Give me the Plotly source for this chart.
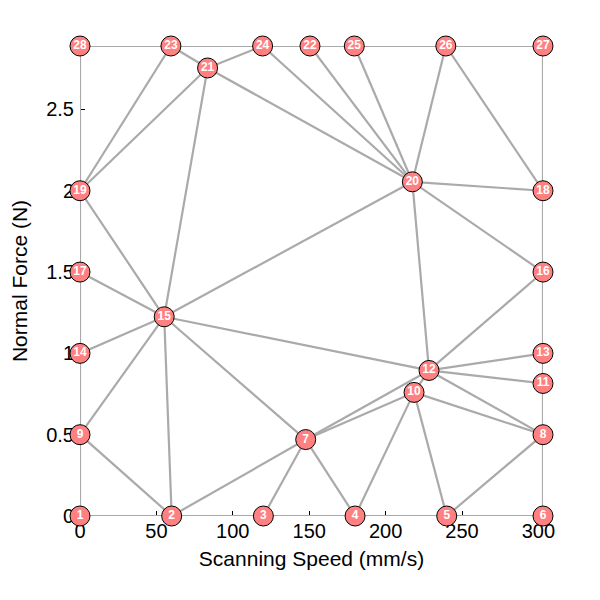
import plotly.graph_objects as go

# node coordinates (scanning speed in mm/s, normal force in N)
node_id = list(range(1, 29))
speed = [0, 60, 120, 180, 240, 303, 147.7, 303, 0, 218.6,
         303, 228.4, 303, 0, 55.1, 303, 0, 303, 0, 217.5,
         83.5, 150.5, 59.5, 119.5, 179.5, 239.4, 303, 0]
force = [0, 0, 0, 0, 0, 0, 0.47, 0.5, 0.5, 0.76,
         0.815, 0.895, 1.0, 1.0, 1.225, 1.5, 1.5, 2.0, 2.0, 2.055,
         2.755, 2.89, 2.89, 2.89, 2.89, 2.89, 2.89, 2.89]

# mesh edges (node numbers)
edges = [
    (1, 2), (2, 3), (3, 4), (4, 5), (5, 6), (6, 8), (8, 11), (11, 13),
    (13, 16), (16, 18), (18, 27), (27, 26), (26, 25), (25, 22), (22, 24),
    (24, 23), (23, 28), (28, 19), (19, 17), (17, 14), (14, 9), (9, 1),
    (9, 2), (9, 15), (14, 15), (17, 15), (19, 15), (2, 15), (2, 7), (3, 7),
    (4, 7), (7, 15), (7, 10), (7, 12), (4, 10), (5, 10), (5, 8), (10, 8),
    (10, 12), (12, 8), (12, 11), (12, 13), (12, 16), (12, 20), (12, 15),
    (15, 20), (15, 21), (16, 20), (18, 20), (26, 20), (26, 18), (25, 20),
    (22, 20), (24, 20), (21, 20), (21, 24), (21, 23), (21, 19), (23, 19),
]

ex, ey = [], []
for a, b in edges:
    ex += [speed[a - 1], speed[b - 1], None]
    ey += [force[a - 1], force[b - 1], None]

fig = go.Figure()
fig.add_trace(go.Scatter(x=ex, y=ey, mode='lines',
                         line=dict(color='#aaaaaa', width=2.2),
                         hoverinfo='skip', cliponaxis=False))
fig.add_trace(go.Scatter(x=speed, y=force, mode='markers+text',
                         text=[str(n) for n in node_id],
                         textposition='middle center',
                         textfont=dict(family='Liberation Sans', size=12, color='white', weight='bold'),
                         marker=dict(size=20, color='#ff8080', line=dict(color='black', width=1)),
                         cliponaxis=False))

# page body adds an 8px offset, so the figure is 592 wide/high
axis_font = dict(family='Liberation Sans', size=20, color='black')
title_font = dict(family='Liberation Sans', size=21, color='black')
fig.update_layout(
    width=592, height=592,
    margin=dict(l=72, r=57, t=38, b=84),
    plot_bgcolor='white', paper_bgcolor='white',
    showlegend=False,
    xaxis=dict(range=[0, 303], tickvals=[0, 50, 100, 150, 200, 250, 300],
               ticks='inside', ticklen=5, tickcolor='black', showgrid=False,
               zeroline=False, showline=False, tickfont=axis_font,
               layer='below traces', automargin=False, ticklabelstandoff=1,
               title=dict(text='Scanning Speed (mm/s)', font=title_font, standoff=10)),
    yaxis=dict(range=[0, 2.89], tickvals=[0, 0.5, 1, 1.5, 2, 2.5],
               ticktext=['0', '0.5', '1', '1.5', '2', '2.5'],
               ticks='inside', ticklen=5, tickcolor='black', showgrid=False,
               zeroline=False, showline=False, tickfont=axis_font,
               layer='below traces', automargin=False, ticklabelstandoff=5,
               title=dict(text='Normal Force (N)', font=title_font, standoff=14)),
)

fig.write_html("out.html")
